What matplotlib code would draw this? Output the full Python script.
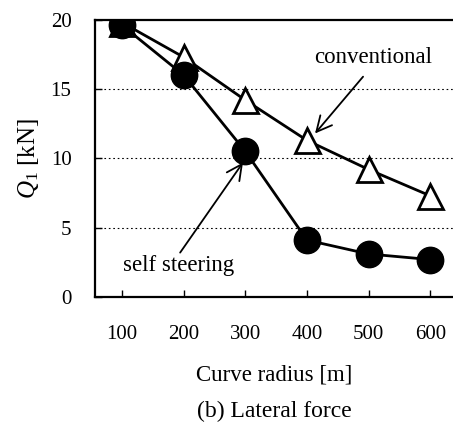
import numpy as np
import matplotlib.pyplot as plt

plt.rcParams['font.family'] = ['Liberation Serif', 'DejaVu Serif']
plt.rcParams['mathtext.fontset'] = 'custom'
plt.rcParams['mathtext.rm'] = 'Liberation Serif'
plt.rcParams['mathtext.it'] = 'Liberation Serif:italic'

radius = [100, 200, 300, 400, 500, 600]
self_steering = [19.6, 16.0, 10.5, 4.1, 3.1, 2.7]
conventional = [19.8, 17.3, 14.2, 11.3, 9.2, 7.3]
yticks = [0, 5, 10, 15, 20]

fig = plt.figure(figsize=(4.53, 4.23), dpi=100)
ax = fig.add_axes([0.21, 0.298, 0.79, 0.655])

for y in [5, 10, 15]:
    ax.axhline(y, color='black', lw=0.8, ls=(0, (1.5, 2.5)), zorder=1)

ax.plot(radius, conventional, color='black', lw=2, marker='^', ms=18,
        mfc='white', mec='black', mew=2, zorder=3)
ax.plot(radius, self_steering, color='black', lw=2, marker='o', ms=19,
        mfc='black', mec='black', zorder=4)

ax.set_xlim(56, 637)
ax.set_ylim(0, 20)
ax.set_xticks(radius)
ax.set_yticks(yticks)
ax.tick_params(direction='in', length=5, width=1, labelsize=15)
ax.tick_params(axis='y', pad=17)
ax.tick_params(axis='x', pad=20)
ax.spines['right'].set_visible(False)
for s in ['left', 'bottom', 'top']:
    ax.spines[s].set_linewidth(1.6)

ax.set_ylabel('$Q_1$ [kN]', fontsize=18, labelpad=7)
ax.set_xlabel('Curve radius [m]', fontsize=16.5, labelpad=15)
fig.text(0.605, 0.015, '(b) Lateral force', fontsize=17, ha='center')

# annotations
arrow = dict(arrowstyle='->, head_length=0.5, head_width=0.25', lw=1.3,
             color='black', mutation_scale=22, shrinkA=0, shrinkB=0)
ax.text(507, 17.3, 'conventional', fontsize=16.5, ha='center', va='center')
ax.annotate('', xy=(413, 11.8), xytext=(491, 15.9), arrowprops=arrow)
ax.text(191, 2.3, 'self steering', fontsize=16.5, ha='center', va='center')
ax.annotate('', xy=(296, 9.7), xytext=(194, 3.2), arrowprops=arrow)

fig.savefig('out.png', dpi=100)
